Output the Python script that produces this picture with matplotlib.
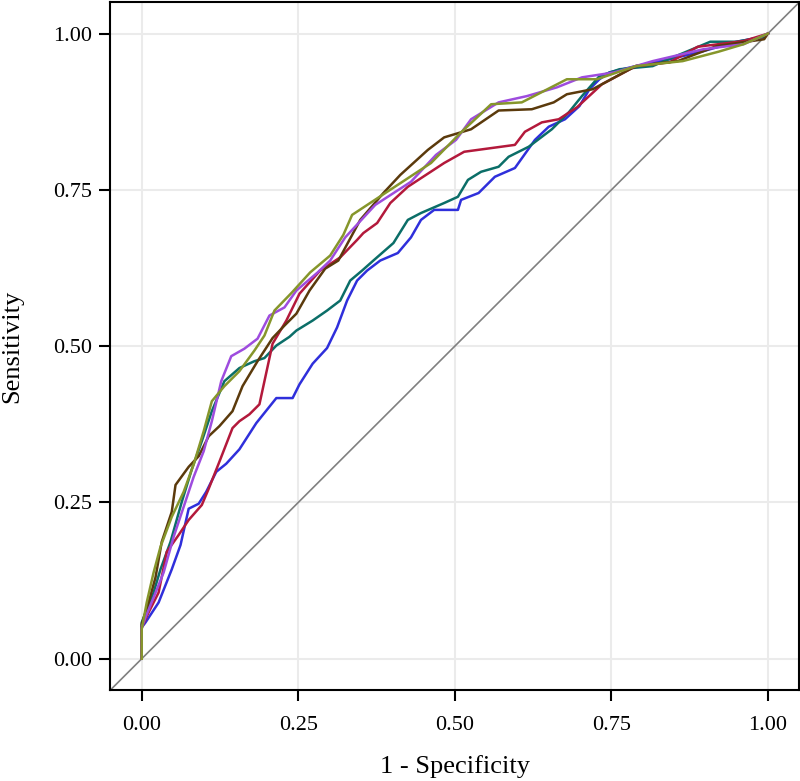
import matplotlib
matplotlib.use('Agg')
import matplotlib.pyplot as plt

plt.rcParams['font.family'] = ['Liberation Serif', 'DejaVu Serif']

# ── ROC curves (1 - specificity, sensitivity) ──
blue_x = [0, 0, 0.006, 0.027, 0.048, 0.062, 0.075, 0.091, 0.103, 0.119, 0.135, 0.156,
          0.183, 0.215, 0.241, 0.252, 0.273, 0.296, 0.312, 0.328, 0.344, 0.360, 0.381,
          0.409, 0.430, 0.446, 0.467, 0.505, 0.510, 0.538, 0.564, 0.596, 0.628, 0.650,
          0.676, 0.699, 0.715, 0.731, 0.747, 0.789, 0.843, 0.897, 0.950, 0.994, 1.0]
blue_y = [0, 0.05, 0.058, 0.090, 0.143, 0.182, 0.240, 0.248, 0.267, 0.299, 0.312, 0.335,
          0.377, 0.417, 0.417, 0.439, 0.472, 0.497, 0.530, 0.573, 0.605, 0.621, 0.637,
          0.649, 0.674, 0.702, 0.718, 0.718, 0.734, 0.745, 0.771, 0.785, 0.830, 0.851,
          0.863, 0.884, 0.911, 0.927, 0.938, 0.948, 0.959, 0.972, 0.987, 0.995, 1.0]

teal_x = [0, 0, 0.019, 0.030, 0.046, 0.064, 0.080, 0.096, 0.112, 0.132, 0.156, 0.180,
          0.196, 0.215, 0.236, 0.247, 0.273, 0.296, 0.317, 0.333, 0.352, 0.370, 0.402,
          0.425, 0.446, 0.483, 0.505, 0.521, 0.542, 0.570, 0.586, 0.618, 0.655, 0.682,
          0.703, 0.731, 0.763, 0.816, 0.853, 0.908, 0.950, 0.994, 1.0]
teal_y = [0, 0.058, 0.106, 0.143, 0.187, 0.251, 0.303, 0.348, 0.396, 0.444, 0.465, 0.476,
          0.481, 0.501, 0.515, 0.525, 0.541, 0.557, 0.573, 0.605, 0.621, 0.637, 0.665,
          0.702, 0.713, 0.729, 0.739, 0.766, 0.779, 0.787, 0.803, 0.819, 0.847, 0.874,
          0.900, 0.932, 0.943, 0.948, 0.964, 0.987, 0.987, 0.995, 1.0]

red_x = [0, 0, 0.011, 0.027, 0.040, 0.059, 0.075, 0.096, 0.107, 0.124, 0.145, 0.156,
         0.172, 0.188, 0.196, 0.209, 0.231, 0.252, 0.285, 0.317, 0.344, 0.354, 0.376,
         0.397, 0.425, 0.454, 0.483, 0.515, 0.596, 0.612, 0.639, 0.666, 0.695, 0.735,
         0.789, 0.843, 0.888, 0.961, 1.0]
red_y = [0, 0.05, 0.074, 0.106, 0.171, 0.198, 0.222, 0.246, 0.272, 0.315, 0.369, 0.380,
         0.391, 0.407, 0.444, 0.504, 0.541, 0.584, 0.621, 0.642, 0.670, 0.681, 0.697,
         0.729, 0.755, 0.774, 0.793, 0.811, 0.822, 0.843, 0.858, 0.863, 0.882, 0.919,
         0.948, 0.954, 0.979, 0.988, 1.0]

brown_x = [0, 0, 0.011, 0.022, 0.032, 0.048, 0.054, 0.075, 0.091, 0.107, 0.124, 0.145,
           0.161, 0.185, 0.209, 0.228, 0.247, 0.268, 0.293, 0.314, 0.349, 0.386, 0.413,
           0.457, 0.483, 0.526, 0.570, 0.623, 0.658, 0.679, 0.720, 0.789, 0.856, 0.918,
           0.994, 1.0]
brown_y = [0, 0.055, 0.090, 0.130, 0.187, 0.235, 0.278, 0.307, 0.324, 0.356, 0.372, 0.396,
           0.436, 0.476, 0.513, 0.533, 0.552, 0.589, 0.624, 0.637, 0.702, 0.745, 0.774,
           0.814, 0.834, 0.847, 0.877, 0.879, 0.890, 0.903, 0.911, 0.948, 0.956, 0.980,
           0.991, 1.0]

purple_x = [0, 0, 0.006, 0.019, 0.035, 0.051, 0.067, 0.083, 0.099, 0.112, 0.127, 0.143,
            0.164, 0.185, 0.204, 0.228, 0.247, 0.281, 0.301, 0.325, 0.373, 0.430, 0.470,
            0.502, 0.526, 0.570, 0.615, 0.663, 0.703, 0.755, 0.816, 0.897, 0.961, 1.0]
purple_y = [0, 0.05, 0.066, 0.098, 0.138, 0.195, 0.243, 0.291, 0.332, 0.380, 0.444, 0.484,
            0.496, 0.512, 0.549, 0.562, 0.589, 0.618, 0.637, 0.674, 0.726, 0.763, 0.806,
            0.830, 0.863, 0.890, 0.900, 0.914, 0.930, 0.938, 0.956, 0.975, 0.983, 1.0]

olive_x = [0, 0, 0.008, 0.019, 0.030, 0.048, 0.067, 0.083, 0.099, 0.112, 0.132, 0.156,
           0.180, 0.196, 0.212, 0.240, 0.269, 0.301, 0.322, 0.336, 0.389, 0.421, 0.462,
           0.510, 0.558, 0.607, 0.679, 0.727, 0.789, 0.864, 0.921, 0.961, 1.0]
olive_y = [0, 0.047, 0.090, 0.138, 0.179, 0.227, 0.267, 0.311, 0.364, 0.412, 0.436, 0.460,
           0.493, 0.517, 0.557, 0.586, 0.618, 0.645, 0.678, 0.710, 0.745, 0.766, 0.793,
           0.842, 0.887, 0.890, 0.927, 0.927, 0.948, 0.956, 0.971, 0.983, 1.0]

curves = [
    (blue_x, blue_y, '#2F2FDB'),
    (teal_x, teal_y, '#0B6E68'),
    (red_x, red_y, '#B3193B'),
    (brown_x, brown_y, '#5B3A0C'),
    (purple_x, purple_y, '#9E4CDE'),
    (olive_x, olive_y, '#86962B'),
]

ticks = [0.0, 0.25, 0.5, 0.75, 1.0]
tick_labels = ['0.00', '0.25', '0.50', '0.75', '1.00']

fig = plt.figure(figsize=(8, 7.81), dpi=100)
ax = fig.add_axes([0.138, 0.1165, 0.861, 0.8805])

ax.axline((0, 0), (1, 1), color='#808080', linewidth=1.2, zorder=2)
for xs, ys, col in curves:
    ax.plot(xs, ys, color=col, linewidth=1.8, zorder=3)

ax.set_xlim(-0.05, 1.05)
ax.set_ylim(-0.05, 1.05)
ax.set_xticks(ticks)
ax.set_xticklabels(tick_labels)
ax.set_yticks(ticks)
ax.set_yticklabels(tick_labels)
ax.grid(True, color='#EBEBEB', linewidth=1.5, zorder=0)
ax.set_axisbelow(True)

for sp in ax.spines.values():
    sp.set_color('black')
    sp.set_linewidth(1.5)
ax.tick_params(axis='both', length=8, width=1.5, color='black', labelsize=16,
               labelcolor='black')
ax.tick_params(axis='x', pad=11)
ax.tick_params(axis='y', pad=5)

ax.set_xlabel('1 - Specificity', fontsize=19, labelpad=14)
ax.set_ylabel('Sensitivity', fontsize=19, labelpad=22)

fig.savefig('out.png', dpi=100, facecolor='white')
plt.close()
